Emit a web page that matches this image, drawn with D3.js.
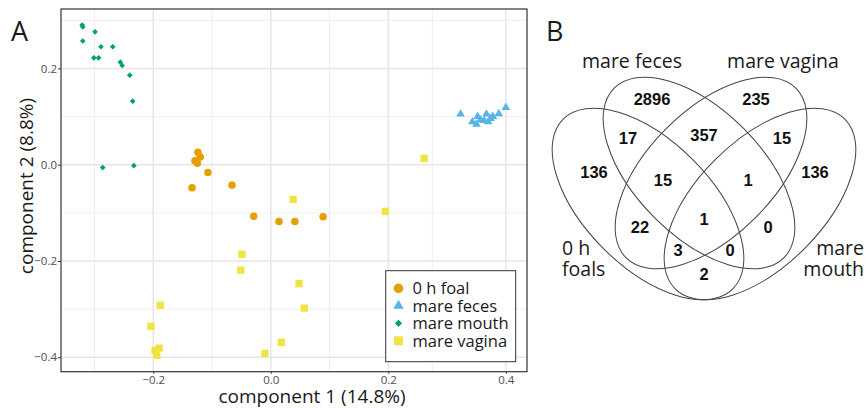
<!DOCTYPE html>
<html>
<head>
<meta charset="utf-8">
<script src="https://cdn.jsdelivr.net/npm/d3@7"></script>
<style>
  body { margin: 0; background: #fff; }
  text { font-family: "Open Sans", sans-serif; }
</style>
</head>
<body>
<svg id="chart" width="866" height="408"></svg>
<script>
// ── Panel A data: PCoA scores per group ─────────────────────────
const groups = ['0 h foal', 'mare feces', 'mare mouth', 'mare vagina'];
const groupColors = ['#E69F00', '#56B4E9', '#009E73', '#F0E442'];

const foalX = [-0.124, -0.120, -0.129, -0.125, -0.107, -0.066, -0.134, -0.029, 0.014, 0.041, 0.089];
const foalY = [0.026, 0.016, 0.008, 0.003, -0.016, -0.042, -0.048, -0.107, -0.118, -0.118, -0.108];

const fecesX = [0.323, 0.352, 0.343, 0.350, 0.367, 0.363, 0.370, 0.378, 0.388, 0.400, 0.357, 0.374];
const fecesY = [0.105, 0.100, 0.089, 0.084, 0.105, 0.092, 0.089, 0.100, 0.106, 0.119, 0.093, 0.096];

const mouthX = [-0.321, -0.320, -0.299, -0.320, -0.289, -0.269, -0.301, -0.293, -0.256, -0.253, -0.240, -0.235, -0.286, -0.233];
const mouthY = [0.290, 0.286, 0.276, 0.257, 0.245, 0.245, 0.222, 0.222, 0.213, 0.206, 0.186, 0.132, -0.006, -0.002];

const vaginaX = [0.261, 0.038, 0.195, -0.049, -0.051, 0.048, 0.057, -0.188, -0.204, -0.197, -0.190, -0.194, -0.010, 0.018];
const vaginaY = [0.013, -0.072, -0.097, -0.186, -0.219, -0.247, -0.298, -0.292, -0.336, -0.386, -0.381, -0.396, -0.392, -0.369];

const xMajor = [-0.2, 0.0, 0.2, 0.4];
const xMinor = [-0.3, -0.1, 0.1, 0.275];
const yMajor = [-0.4, -0.2, 0.0, 0.2];
const yMinor = [-0.3, -0.1, 0.1, 0.3];

// ── Panel B data: Venn counts ───────────────────────────────────
const vennSets = ['0 h foals', 'mare feces', 'mare vagina', 'mare mouth'];
const vennCounts = [2896, 235, 17, 357, 15, 136, 15, 1, 136, 22, 1, 0, 3, 0, 2];

const fmt = d => d3.format('.1f')(d).replace('-', '\u2212');

const svg = d3.select('#chart');

// ── Panel A ─────────────────────────────────────────────────────
const P = { left: 61, right: 527, top: 9, bottom: 371.7 };
const x = d3.scaleLinear().domain([-0.357, 0.436]).range([P.left, P.right]);
const y = d3.scaleLinear().domain([-0.430, 0.3234]).range([P.bottom, P.top]);

const gA = svg.append('g');

// grid
gA.selectAll('.xmin').data(xMinor).join('line')
  .attr('x1', d => x(d)).attr('x2', d => x(d))
  .attr('y1', P.top).attr('y2', P.bottom)
  .attr('stroke', '#ebebeb').attr('stroke-width', 0.8);
gA.selectAll('.ymin').data(yMinor).join('line')
  .attr('y1', d => y(d)).attr('y2', d => y(d))
  .attr('x1', P.left).attr('x2', P.right)
  .attr('stroke', '#ebebeb').attr('stroke-width', 0.8);
gA.selectAll('.xmaj').data(xMajor).join('line')
  .attr('x1', d => x(d)).attr('x2', d => x(d))
  .attr('y1', P.top).attr('y2', P.bottom)
  .attr('stroke', '#e6e6e6').attr('stroke-width', 1.5);
gA.selectAll('.ymaj').data(yMajor).join('line')
  .attr('y1', d => y(d)).attr('y2', d => y(d))
  .attr('x1', P.left).attr('x2', P.right)
  .attr('stroke', '#e6e6e6').attr('stroke-width', 1.5);

// axes (ticks + labels only)
const xAxis = gA.append('g')
  .attr('transform', `translate(0,${P.bottom})`)
  .call(d3.axisBottom(x).tickValues(xMajor).tickSize(2).tickPadding(2).tickFormat(fmt));
const yAxis = gA.append('g')
  .attr('transform', `translate(${P.left},0)`)
  .call(d3.axisLeft(y).tickValues(yMajor).tickSize(3).tickFormat(fmt));
[xAxis, yAxis].forEach(ax => {
  ax.select('.domain').remove();
  ax.selectAll('line').attr('stroke', '#333');
  ax.selectAll('text')
    .attr('fill', '#4d4d4d')
    .attr('font-size', 11.5)
    .style('font-family', '"Open Sans", sans-serif');
});
yAxis.selectAll('text').attr('x', -4);

// points
const sym = {
  circle:   (s) => d3.symbol(d3.symbolCircle, s)(),
  triangle: (s) => d3.symbol(d3.symbolTriangle, s)(),
  diamond:  (s) => d3.symbol(d3.symbolSquare, s)(),
  square:   (s) => d3.symbol(d3.symbolSquare, s)()
};
const shapes = ['circle', 'triangle', 'diamond', 'square'];
const ptSize = [44, 32, 16, 54];
const legSize = [72, 46, 26, 80];

const series = [
  { xs: foalX, ys: foalY },
  { xs: fecesX, ys: fecesY },
  { xs: mouthX, ys: mouthY },
  { xs: vaginaX, ys: vaginaY }
];

// draw in ggplot layer order
series.forEach((s, gi) => {
  const pts = s.xs.map((v, i) => [v, s.ys[i]]);
  gA.append('g').selectAll('path').data(pts).join('path')
    .attr('d', sym[shapes[gi]](ptSize[gi]))
    .attr('transform', d => `translate(${x(d[0])},${y(d[1])})` + (shapes[gi] === 'diamond' ? ' rotate(45)' : ''))
    .attr('fill', groupColors[gi]);
});

// panel border
gA.append('rect')
  .attr('x', P.left).attr('y', P.top)
  .attr('width', P.right - P.left).attr('height', P.bottom - P.top)
  .attr('fill', 'none').attr('stroke', '#333').attr('stroke-width', 1.2);

// legend
const leg = gA.append('g');
leg.append('rect')
  .attr('x', 385.7).attr('y', 270.7).attr('width', 130).attr('height', 91)
  .attr('fill', '#fff').attr('stroke', '#333').attr('stroke-width', 1);
groups.forEach((gname, i) => {
  const cy = 288.3 + i * 17.5;
  leg.append('path')
    .attr('d', sym[shapes[i]](legSize[i]))
    .attr('transform', `translate(398.5,${cy})` + (shapes[i] === 'diamond' ? ' rotate(45)' : ''))
    .attr('fill', groupColors[i]);
  leg.append('text')
    .attr('x', 412.5).attr('y', cy).attr('dy', '0.35em')
    .attr('font-size', 16.5).attr('fill', '#1a1a1a')
    .text(gname);
});

// axis titles
gA.append('text')
  .attr('x', 312).attr('y', 403)
  .attr('text-anchor', 'middle').attr('font-size', 19).attr('fill', '#1a1a1a')
  .text('component 1 (14.8%)');
gA.append('text')
  .attr('transform', 'translate(33,186) rotate(-90)')
  .attr('text-anchor', 'middle').attr('font-size', 19).attr('fill', '#1a1a1a')
  .text('component 2 (8.8%)');

svg.append('text').attr('x', 11).attr('y', 41)
  .attr('font-size', 27).attr('fill', '#1a1a1a').text('A');

// ── Panel B: four-set Venn ──────────────────────────────────────
svg.append('text').attr('x', 546).attr('y', 41)
  .attr('font-size', 27).attr('fill', '#1a1a1a').text('B');

const ellipses = [
  { cx: 648, cy: 204, rot: 45 },   // 0 h foals
  { cx: 699, cy: 173, rot: 45 },   // mare feces
  { cx: 711, cy: 173, rot: -45 },  // mare vagina
  { cx: 760, cy: 204, rot: -45 }   // mare mouth
];
const gB = svg.append('g');
gB.selectAll('ellipse').data(ellipses).join('ellipse')
  .attr('cx', d => d.cx).attr('cy', d => d.cy)
  .attr('rx', 120).attr('ry', 63)
  .attr('transform', d => `rotate(${d.rot},${d.cx},${d.cy})`)
  .attr('fill', 'none').attr('stroke', '#444').attr('stroke-width', 1);

const countPos = [
  [652, 99], [756, 99], [628, 138], [704, 135], [782, 138],
  [594, 172], [663, 180], [748, 180], [815, 172],
  [640, 227], [704, 219], [768, 227], [678, 250], [730, 250], [704, 274]
];
gB.selectAll('text.count').data(vennCounts).join('text')
  .attr('class', 'count')
  .attr('x', (d, i) => countPos[i][0]).attr('y', (d, i) => countPos[i][1])
  .attr('dy', '0.36em').attr('text-anchor', 'middle')
  .style('font-family', '"Liberation Sans", Arial, sans-serif')
  .attr('font-weight', 'bold').attr('font-size', 16.5).attr('fill', '#111')
  .text(d => d);

// set labels (two-line ones are split into separate texts)
const setLabels = [
  { set: 1, lines: ['mare feces'], x: 632, y: 68, anchor: 'middle' },
  { set: 2, lines: ['mare vagina'], x: 783, y: 68, anchor: 'middle' },
  { set: 0, lines: ['0 h', 'foals'], x: 562, y: 255, anchor: 'start' },
  { set: 3, lines: ['mare', 'mouth'], x: 864, y: 255, anchor: 'end' }
];
setLabels.forEach(l => {
  l.lines.forEach((ln, j) => {
    gB.append('text')
      .attr('x', l.x).attr('y', l.y + j * 20.7)
      .attr('text-anchor', l.anchor).attr('font-size', 19.5).attr('fill', '#1a1a1a')
      .attr('data-set', vennSets[l.set])
      .text(ln);
  });
});
</script>
</body>
</html>
